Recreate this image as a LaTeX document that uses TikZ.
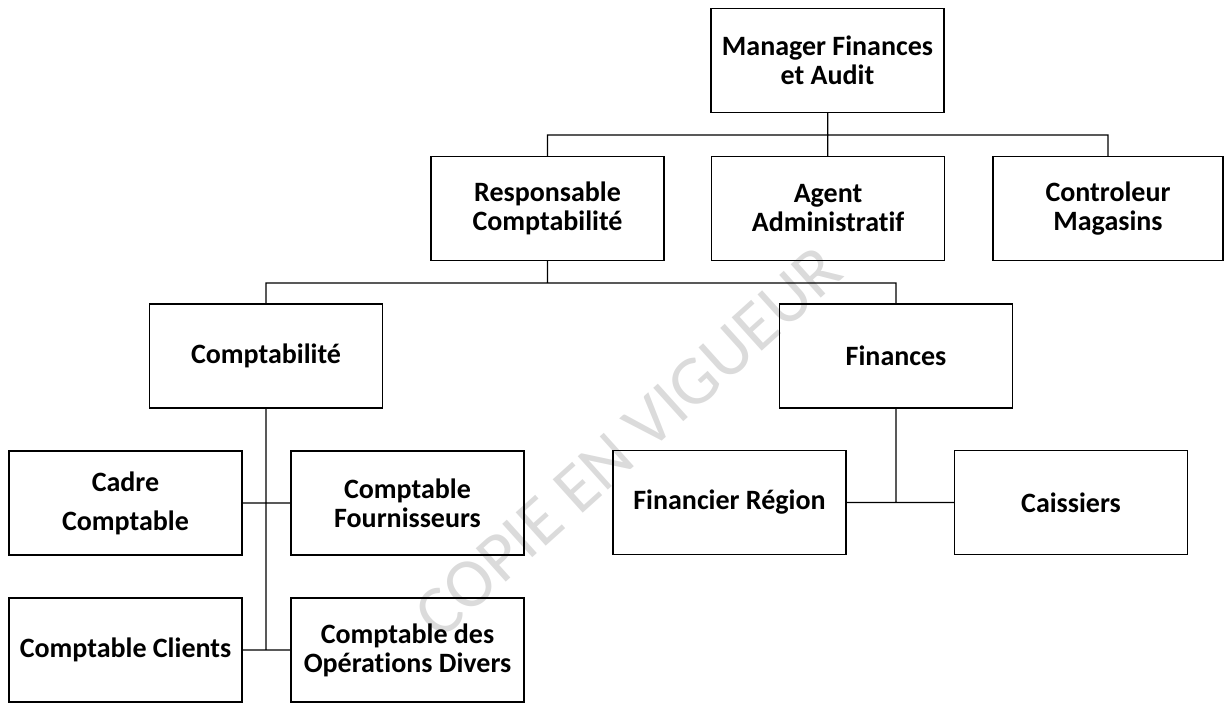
\documentclass[tikz,border=0pt]{standalone}
\usepackage{fontspec}
\setmainfont{Carlito}[Ligatures=NoCommon]
\begin{document}
\begin{tikzpicture}[x=0.5pt,y=-0.5pt,line width=0.6pt,
    poste/.style={draw,minimum width=116.5pt,minimum height=52pt,inner sep=0pt,align=center,
        font=\bfseries\fontsize{14}{14.5}\selectfont}]
    \useasboundingbox (0,0) rectangle (1224,702);
    % filigrane
    \node[rotate=42,text=black!14,font=\fontsize{35}{35}\selectfont] (tampon) at (628,442) {COPIE EN VIGUEUR};
        \draw (827.5,60.5) node[poste] (man) {Manager Finances\\et Audit};
        \draw (547.5,208.5) node[poste] (resp) {Responsable\\Comptabilité};
        \draw (828,208.5)   node[poste] (agent) {Agent\\Administratif};
        \draw (1108,208.5)  node[poste,minimum width=115pt] (ctrl) {Controleur\\Magasins};
        \draw (266,356)     node[poste] (compta) {Comptabilité};
        \draw (896,356)     node[poste] (fin) {Finances};
        \draw (125.5,503)   node[poste] (cadre) {Cadre\\[5pt]Comptable};
        \draw (407.5,503)   node[poste] (fourn) {Comptable\\Fournisseurs};
        \draw (729.5,502.5) node[poste] (region) {Financier Région};
        \draw (1071,502.5)  node[poste] (caiss) {Caissiers};
        \draw (125.5,650)   node[poste] (clients) {Comptable Clients};
        \draw (407.5,650)   node[poste] (divers) {Comptable des\\Opérations Divers};
        \coordinate (bus1) at (827.5,135);
        \coordinate (bus2) at (547.5,283);
        \coordinate (spine) at (266,650);
        \coordinate (finpt) at (896,502.5);
        \draw (man) -- (agent)
              (resp.north) |- (bus1) -| (ctrl.north)
              (resp) -- (bus2)
              (compta.north) |- (bus2) -| (fin.north)
              (compta) -- (spine)
              (cadre) -- (fourn)
              (clients) -- (divers)
              (fin) -- (finpt)
              (region) -- (caiss);
\end{tikzpicture}
\end{document}
